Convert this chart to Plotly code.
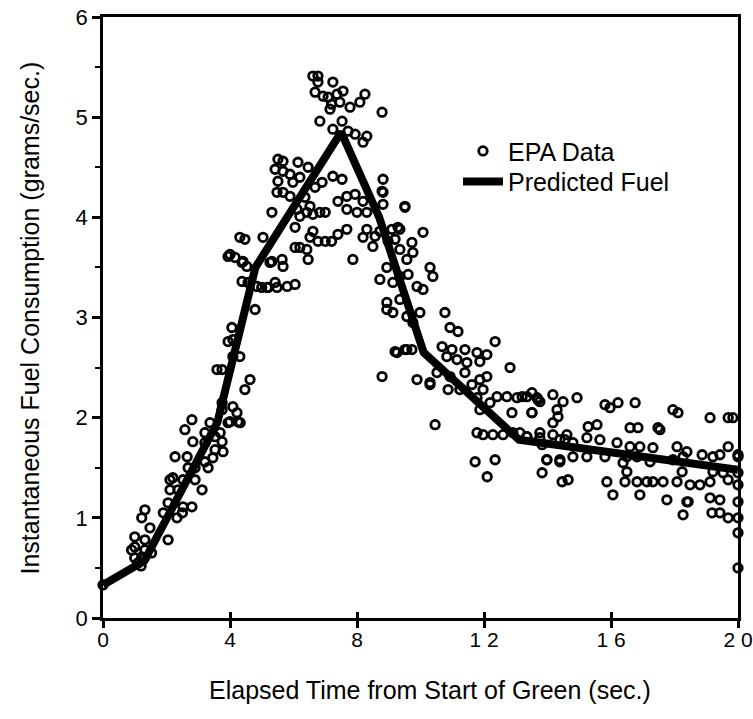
import plotly.graph_objects as go

# EPA observed data (time s, fuel g/s)
epa_time = [
    0.0, 0.9, 1.0, 1.0, 1.0, 1.1, 1.2, 1.22, 1.22, 1.32, 1.32, 1.32, 1.48, 1.53, 1.3,
    2.05, 1.9, 2.05, 2.33, 2.5, 2.8, 2.52, 2.11, 2.36, 2.11, 2.2, 2.52, 3.12, 2.27, 2.65,
    2.68, 2.9, 2.9, 2.58, 2.8, 2.83, 3.21, 3.21, 3.37, 3.31, 3.21, 3.46, 3.53, 3.78, 3.75,
    3.69, 3.75, 3.94, 4.09, 4.22, 4.32, 3.75, 4.47, 4.63, 3.53, 4.0, 4.25,
    4.31, 4.47, 5.04, 4.0, 4.41, 4.53, 5.26, 4.38, 4.57, 5.0, 5.2, 5.42, 4.79, 4.06,
    3.94, 4.09, 4.09, 4.31, 3.59, 3.75, 3.94, 4.16, 4.38, 4.85, 5.17, 5.48, 5.8, 6.05,
    5.32, 5.64, 5.67, 6.05, 6.2, 6.42, 6.46,
    6.61, 6.77, 6.77, 7.24, 6.68, 6.93, 7.09, 7.37, 7.56, 7.2, 7.46, 7.78, 8.09, 8.25,
    7.15, 8.79, 6.83, 7.53, 7.24, 7.94, 8.31, 8.19, 7.72,
    5.51, 5.67, 5.42, 6.14, 5.67, 5.89, 6.46, 5.51, 5.98, 6.2, 5.67, 5.48, 5.89, 6.36,
    6.68, 6.9, 7.24, 7.53, 5.32, 6.11, 6.42, 6.61, 6.83, 7.0, 6.52, 6.2, 6.05, 6.61,
    6.52, 7.0, 7.2, 7.4, 7.68, 6.77,
    7.4, 7.68, 7.94, 8.19, 7.68, 8.0, 8.31, 8.82, 8.79, 8.82, 9.51, 7.87, 8.31, 8.57,
    8.72, 9.1, 9.35, 10.08, 8.19, 8.5, 8.98, 9.35, 9.73, 9.57, 9.76, 10.3, 10.39, 8.94,
    8.72, 9.13, 9.35, 9.61, 9.89, 10.08, 8.94, 8.94, 9.35, 9.13, 9.57, 9.98, 9.76, 9.26,
    9.57, 9.29, 9.2, 8.82, 9.51,
    10.77, 10.93, 11.18, 12.35, 9.2, 9.51, 9.73, 8.79, 9.89, 10.3, 10.52, 10.68, 10.83,
    10.99, 11.4, 11.78, 12.09, 11.15, 11.46, 11.87, 12.82, 10.93, 11.4, 11.87, 12.09,
    10.87, 11.24, 11.62, 11.97, 11.78, 12.19, 12.41, 12.72, 13.04, 13.35, 13.67, 13.76,
    14.17, 14.49, 14.93, 11.87, 12.88, 13.51, 14.3, 14.17, 14.33, 10.46, 11.78, 11.97,
    12.28, 12.6, 12.91, 13.35, 13.76, 14.17, 14.55, 14.8, 11.72, 12.35, 13.98, 14.39,
    12.1, 10.3,
    13.2, 13.51, 13.7, 13.51, 15.81, 15.97, 16.22, 16.76, 17.95, 18.11, 19.12, 19.84,
    15.28, 15.56, 16.6, 16.85, 17.48, 17.54, 19.69,
    13.13, 13.35, 13.76, 14.61, 13.83, 14.39, 15.24, 15.65, 16.19, 16.6, 16.91, 17.32,
    18.08, 18.39, 18.87, 19.21, 19.69, 20.0, 14.8, 15.24, 15.81, 16.5, 16.82, 16.38,
    17.23, 17.95, 18.27, 19.43, 13.98, 14.39,
    13.83, 14.46, 14.65, 15.87, 16.06, 16.5, 16.44, 16.82, 16.91, 17.13, 17.32, 17.64,
    17.76, 18.08, 18.24, 18.39, 18.27, 18.49, 18.8, 19.12, 19.21, 19.53, 19.12, 19.43,
    19.18, 19.43, 19.69, 19.69, 20.0, 20.0, 20.0, 20.0, 20.0, 20.0, 20.0, 18.43,
]
epa_fuel = [
    0.33, 0.68, 0.71, 0.81, 0.6, 0.55, 0.52, 0.61, 1.0, 1.08, 0.68, 0.78, 0.9, 0.65, 0.6,
    0.78, 1.05, 1.15, 1.0, 1.05, 1.11, 1.11, 1.28, 1.28, 1.38, 1.4, 1.38, 1.28, 1.61, 1.61,
    1.5, 1.5, 1.38, 1.88, 1.98, 1.76, 1.85, 1.75, 1.95, 1.5, 1.56, 1.6, 1.68, 1.66, 1.76,
    1.85, 2.08, 1.95, 2.11, 2.05, 1.95, 2.15, 2.28, 2.38, 1.81, 1.96, 1.96,
    3.8, 3.78, 3.8, 3.63, 3.56, 3.51, 3.55, 3.36, 3.35, 3.3, 3.3, 3.35, 3.08, 2.9,
    2.76, 2.78, 2.61, 2.61, 2.48, 2.48, 3.61, 3.6, 3.55, 3.31, 3.3, 3.3, 3.31, 3.33,
    3.56, 3.58, 3.51, 3.7, 3.7, 3.68, 3.58,
    5.41, 5.41, 5.35, 5.35, 5.25, 5.21, 5.2, 5.23, 5.26, 5.13, 5.15, 5.1, 5.15, 5.23,
    5.08, 5.05, 4.96, 4.96, 4.88, 4.83, 4.81, 4.75, 4.86,
    4.58, 4.56, 4.48, 4.55, 4.46, 4.43, 4.5, 4.36, 4.35, 4.4, 4.25, 4.25, 4.21, 4.2,
    4.3, 4.35, 4.41, 4.38, 4.05, 4.08, 4.05, 4.03, 4.05, 4.05, 4.11, 4.01, 3.9, 3.86,
    3.8, 3.76, 3.76, 3.83, 3.88, 3.76,
    4.16, 4.21, 4.23, 4.16, 4.08, 4.05, 4.05, 4.38, 4.26, 4.13, 4.11, 3.58, 3.88, 3.81,
    3.86, 3.88, 3.88, 3.85, 3.8, 3.71, 3.76, 3.68, 3.75, 3.58, 3.65, 3.5, 3.41, 3.5,
    3.38, 3.35, 3.41, 3.43, 3.31, 3.28, 3.15, 3.08, 3.18, 3.05, 3.01, 3.05, 2.95, 2.65,
    2.68, 3.9, 3.78, 4.25, 4.1,
    3.05, 2.9, 2.86, 2.76, 2.66, 2.68, 2.68, 2.41, 2.38, 2.35, 2.45, 2.71, 2.61,
    2.68, 2.68, 2.65, 2.63, 2.58, 2.55, 2.56, 2.5, 2.41, 2.45, 2.38, 2.41,
    2.28, 2.28, 2.33, 2.28, 2.2, 2.15, 2.21, 2.21, 2.2, 2.21, 2.2, 2.16,
    2.23, 2.16, 2.2, 2.08, 2.05, 2.05, 2.08, 1.95, 2.01, 1.93, 1.85, 1.83,
    1.83, 1.83, 1.85, 1.81, 1.8, 1.83, 1.78, 1.75, 1.56, 1.58, 1.58, 1.58,
    1.41, 2.33,
    2.21, 2.25, 2.18, 2.05, 2.13, 2.1, 2.15, 2.15, 2.08, 2.05, 2.0, 2.0,
    1.91, 1.93, 1.9, 1.9, 1.9, 1.88, 2.0,
    1.85, 1.81, 1.85, 1.83, 1.73, 1.78, 1.8, 1.78, 1.75, 1.71, 1.71, 1.7,
    1.71, 1.66, 1.63, 1.61, 1.71, 1.63, 1.61, 1.61, 1.61, 1.61, 1.61, 1.55,
    1.56, 1.58, 1.61, 1.63, 1.58, 1.56,
    1.45, 1.36, 1.38, 1.36, 1.23, 1.46, 1.36, 1.36, 1.23, 1.36, 1.36, 1.36,
    1.18, 1.36, 1.46, 1.16, 1.03, 1.33, 1.33, 1.36, 1.46, 1.45, 1.2, 1.18,
    1.05, 1.05, 1.0, 1.38, 1.45, 1.33, 1.16, 1.0, 0.85, 0.5, 1.61, 1.16,
]

# Predicted fuel model line
pred_time = [0.0, 1.3, 3.6, 4.8, 7.5, 8.7, 10.1, 13.1, 20.0]
pred_fuel = [0.33, 0.57, 1.95, 3.5, 4.85, 4.0, 2.65, 1.78, 1.48]

x_tickvals = [0, 4, 8, 12, 16, 20]
x_ticktext = ["0", "4", "8", "1 2", "1 6", "2 0"]

font_family = "Liberation Sans, Arial, Helvetica, sans-serif"

fig = go.Figure()
fig.add_trace(go.Scatter(
    x=epa_time, y=epa_fuel, mode="markers", name="EPA Data",
    marker=dict(symbol="circle-open", size=8.5, color="black",
                line=dict(width=2.8, color="black")),
    cliponaxis=False, legend="legend",
))
fig.add_trace(go.Scatter(
    x=pred_time, y=pred_fuel, mode="lines", name="Predicted Fuel",
    line=dict(color="black", width=8), legend="legend2",
))
# empty helper trace so the overlaid tick axis (inside ticks) is drawn
fig.add_trace(go.Scatter(x=[], y=[], xaxis="x2", yaxis="y", showlegend=False,
                         hoverinfo="skip"))

fig.update_layout(
    width=753, height=719,
    margin=dict(l=103, r=15, t=17, b=101),
    paper_bgcolor="white", plot_bgcolor="white",
    font=dict(family=font_family, color="black", size=22),
    showlegend=True,
    legend=dict(x=0.559, y=0.815, xanchor="left", yanchor="top",
                bgcolor="rgba(0,0,0,0)", font=dict(size=25), itemwidth=40),
    legend2=dict(x=0.559, y=0.764, xanchor="left", yanchor="top",
                 bgcolor="rgba(0,0,0,0)", font=dict(size=25), itemwidth=40),
    xaxis=dict(
        range=[0, 20], tickvals=x_tickvals, ticktext=x_ticktext,
        showgrid=False, zeroline=False, automargin=False,
        showline=True, linecolor="black", linewidth=2.5, mirror=True,
        ticks="outside", ticklen=7, tickwidth=2.5, tickcolor="black",
        ticklabelstandoff=-6, ticklabeloverflow="allow",
        tickfont=dict(size=21),
    ),
    yaxis=dict(
        range=[0, 6], dtick=1,
        showgrid=False, zeroline=False, automargin=False,
        showline=True, linecolor="black", linewidth=2.5, mirror=True,
        ticks="outside", ticklen=8, tickwidth=2.5, tickcolor="black",
        ticklabeloverflow="allow",
        minor=dict(dtick=0.5, ticks="outside", ticklen=5, tickwidth=2, tickcolor="black"),
        tickfont=dict(size=22),
    ),
    xaxis2=dict(
        overlaying="x", anchor="y", side="bottom", range=[0, 20],
        tickvals=x_tickvals, showticklabels=False,
        ticks="inside", ticklen=6, tickwidth=2.5, tickcolor="black",
        showgrid=False, zeroline=False, showline=False, automargin=False,
    ),
    annotations=[
        dict(text="Elapsed Time from Start of Green (sec.)", xref="paper", yref="paper",
             x=0.515, y=-0.12, xanchor="center", yanchor="middle", showarrow=False,
             font=dict(size=25)),
        dict(text="Instantaneous Fuel Consumption (grams/sec.)", xref="paper", yref="paper",
             x=-0.115, y=0.5, xanchor="center", yanchor="middle", showarrow=False,
             textangle=-90, font=dict(size=25)),
    ],
)

# remove the browser's default body margin so the figure fills the window exactly
fig.write_html("out.html",
               config={"displayModeBar": False},
               post_script="document.body.style.margin='0';document.body.style.padding='0';")
